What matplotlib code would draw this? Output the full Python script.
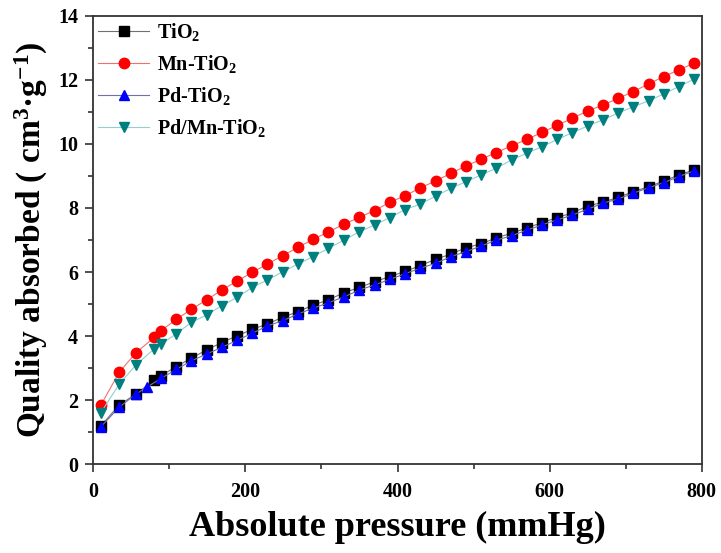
import matplotlib
matplotlib.use("Agg")
import matplotlib.pyplot as plt
from matplotlib.ticker import MultipleLocator

plt.rcParams["font.family"] = "Liberation Serif"
plt.rcParams["font.weight"] = "bold"
plt.rcParams["mathtext.fontset"] = "custom"
plt.rcParams["mathtext.rm"] = "Liberation Serif:bold"
plt.rcParams["mathtext.it"] = "Liberation Serif:bold"
plt.rcParams["mathtext.bf"] = "Liberation Serif:bold"

# pressure points (mmHg)
p_high = [109, 129, 149, 169, 189, 209, 229, 249, 269, 289, 309, 330, 350, 370, 390,
          410, 430, 450, 470, 490, 510, 530, 550, 570, 590,
          610, 630, 650, 670, 690, 710, 730, 750, 770, 790]
p_tio2 = [10, 34, 56, 80, 89] + p_high
p_mn = [10, 34, 56, 80, 89] + p_high
p_pd = [10, 34, 56, 70, 89] + p_high
p_pdmn = [10, 34, 56, 80, 89] + p_high

# adsorbed quantity (cm3/g)
q_tio2 = [1.20, 1.85, 2.19, 2.63, 2.76, 3.05, 3.31, 3.57, 3.80, 4.01, 4.21, 4.38, 4.59, 4.76,
          4.97, 5.13, 5.36, 5.52, 5.70, 5.86, 6.02, 6.20, 6.40, 6.56, 6.76, 6.88, 7.07, 7.21,
          7.38, 7.54, 7.70, 7.85, 8.06, 8.18, 8.33, 8.51, 8.66, 8.84, 9.03, 9.19]
q_mn = [1.85, 2.87, 3.48, 3.96, 4.17, 4.52, 4.84, 5.13, 5.44, 5.72, 5.99, 6.25, 6.51, 6.77,
        7.02, 7.25, 7.50, 7.71, 7.92, 8.18, 8.38, 8.63, 8.84, 9.08, 9.31, 9.52, 9.73, 9.94,
        10.14, 10.36, 10.58, 10.80, 11.03, 11.21, 11.42, 11.63, 11.87, 12.10, 12.31, 12.52]
q_pd = [1.17, 1.78, 2.19, 2.40, 2.68, 2.96, 3.23, 3.44, 3.65, 3.87, 4.09, 4.32, 4.48, 4.69,
        4.87, 5.04, 5.23, 5.44, 5.60, 5.77, 5.95, 6.12, 6.27, 6.48, 6.64, 6.81, 7.00, 7.13,
        7.31, 7.47, 7.63, 7.78, 7.96, 8.15, 8.28, 8.46, 8.63, 8.79, 8.98, 9.16]
q_pdmn = [1.61, 2.50, 3.10, 3.60, 3.75, 4.07, 4.43, 4.66, 4.95, 5.21, 5.52, 5.75, 6.01, 6.25,
          6.48, 6.74, 7.00, 7.26, 7.47, 7.70, 7.95, 8.12, 8.37, 8.61, 8.82, 9.03, 9.24, 9.50,
          9.71, 9.91, 10.14, 10.35, 10.56, 10.75, 10.96, 11.16, 11.34, 11.56, 11.79, 12.02]

fig = plt.figure(figsize=(7.21, 5.53), dpi=100)
ax = fig.add_axes([0.1294, 0.1604, 0.8439, 0.8112])

ax.plot(p_tio2, q_tio2, color="#707070", lw=0.8, marker="s", ms=6.5,
        mfc="black", mec="black", label="TiO$_2$")
ax.plot(p_mn, q_mn, color="#f07070", lw=0.8, marker="o", ms=7.5,
        mfc="red", mec="red", label="Mn-TiO$_2$")
ax.plot(p_pd, q_pd, color="#7070b0", lw=0.8, marker="^", ms=7.5,
        mfc="blue", mec="blue", label="Pd-TiO$_2$")
ax.plot(p_pdmn, q_pdmn, color="#90d0d0", lw=0.8, marker="v", ms=7.5,
        mfc="#007f7f", mec="#007f7f", label="Pd/Mn-TiO$_2$")

ax.set_xlim(0, 800)
ax.set_ylim(0, 14)
ax.xaxis.set_major_locator(MultipleLocator(200))
ax.xaxis.set_minor_locator(MultipleLocator(100))
ax.yaxis.set_major_locator(MultipleLocator(2))
ax.yaxis.set_minor_locator(MultipleLocator(1))
ax.tick_params(which="both", direction="out", top=False, right=False, width=1.2, color="#333333")
ax.tick_params(which="major", length=6, labelsize=14.5)
ax.tick_params(axis="x", which="major", pad=7)
ax.tick_params(axis="y", which="major", pad=5)
ax.tick_params(which="minor", length=3.5)
for s in ax.spines.values():
    s.set_linewidth(1.3)
    s.set_color("#333333")

ax.set_xlabel("Absolute pressure (mmHg)", fontsize=26, fontweight="bold", labelpad=6)
ax.set_ylabel("Quality absorbed ( cm$^3$·g$^{-1}$)", fontsize=24, fontweight="bold", labelpad=6)

ax.legend(loc="upper left", frameon=False, fontsize=14.5, handlelength=2.5,
          handletextpad=0.4, labelspacing=0.5, borderaxespad=0.0, borderpad=0.25)

fig.savefig("out.png", dpi=100)
